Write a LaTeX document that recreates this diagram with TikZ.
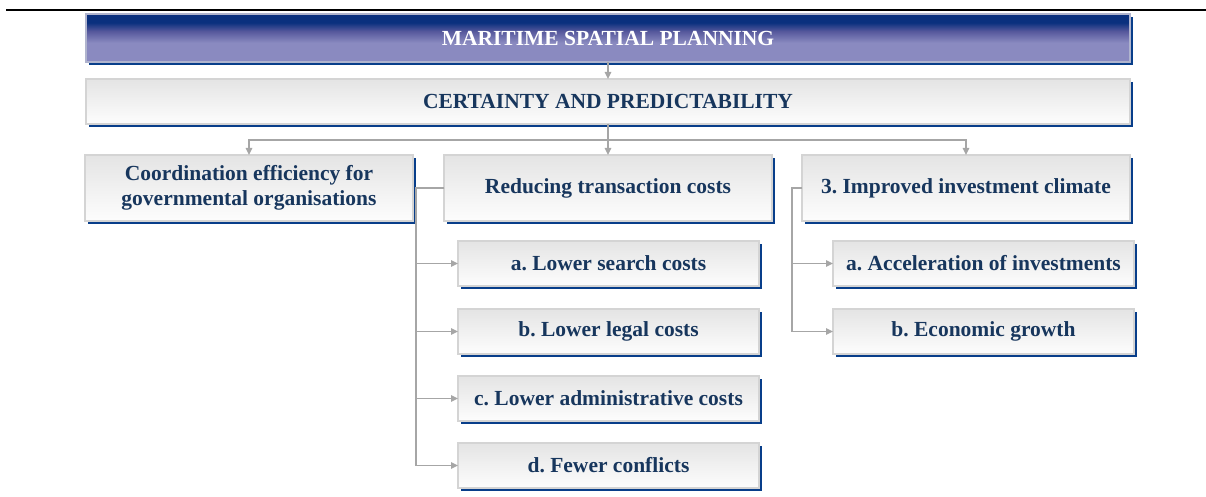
\documentclass[tikz,border=0pt]{standalone}
\usepackage{fontspec}
\setmainfont{Liberation Serif}
\usepackage{tikz}
\usetikzlibrary{positioning}
\usetikzlibrary{arrows.meta}
\usetikzlibrary{shadows}
\frenchspacing

\definecolor{navytext}{RGB}{23,54,93}
\definecolor{shadowblue}{RGB}{8,62,138}
\definecolor{boxedge}{RGB}{212,212,212}
\definecolor{boxtop}{RGB}{228,228,228}
\definecolor{boxbot}{RGB}{253,253,253}
\definecolor{titletop}{RGB}{10,48,126}
\definecolor{titlemid}{RGB}{86,88,156}
\definecolor{titlelow}{RGB}{138,138,192}
\definecolor{titleedge}{RGB}{176,180,206}
\definecolor{linkgray}{RGB}{166,166,166}

\pgfdeclareverticalshading{titleshade}{100bp}{color(0bp)=(titlelow); color(25bp)=(titlelow); color(45bp)=(titlelow); color(57bp)=(titlemid); color(66bp)=(titletop); color(75bp)=(titletop); color(100bp)=(titletop)}

\tikzset{
  basebox/.style={rectangle, outer sep=0pt, inner sep=2pt, line width=1.2pt,
    align=center, font=\bfseries\fontsize{21.5}{25.5}\selectfont,
    drop shadow={shadow xshift=3pt, shadow yshift=-3pt, fill=shadowblue, opacity=1}},
  titlebox/.style={basebox, draw=titleedge, shading=titleshade, text=white,
    minimum width=1044pt, minimum height=48pt},
  mainbox/.style={basebox, draw=boxedge, top color=boxtop, bottom color=boxbot,
    text=navytext},
  widebox/.style={mainbox, minimum width=1044pt, minimum height=45pt},
  groupbox/.style={mainbox, minimum width=328pt, minimum height=66pt},
  subbox/.style={mainbox, minimum width=301pt, minimum height=45pt},
  link/.style={draw=linkgray, line width=1.5pt, -{Triangle[length=7pt,width=6.5pt]}}
}

\begin{document}
\begin{tikzpicture}
  \useasboundingbox (0pt,0pt) rectangle (1206pt,-497pt);
  \draw[line width=2pt] (6pt,-10pt) -- (1206pt,-10pt);

  \node[titlebox] (msp) at (608pt,-38pt) {MARITIME SPATIAL PLANNING};
  \node[widebox, below=17pt of msp] (cert) {CERTAINTY AND PREDICTABILITY};
  \draw[link] (msp) -- (cert);

  \node[groupbox, below=31pt of cert] (reduce) {Reducing transaction costs};
  \node[groupbox, left=31pt of reduce] (coord) {Coordination efficiency for\\governmental organisations};
  \node[groupbox, right=30pt of reduce] (improve) {3. Improved investment climate};

  \coordinate[below=16pt of cert.south] (split);
  \draw[link] (cert.south) -- (cert.south |- reduce.north);
  \draw[link] (split) -| (coord.north);
  \draw[link] (split) -| (improve.north);

  % transaction costs
  \node[subbox, below=20pt of reduce.south west, anchor=north west, xshift=14pt] (lowsearch) {a. Lower search costs};
  \node[subbox, below=23pt of lowsearch] (lowlegal) {b. Lower legal costs};
  \node[subbox, below=22pt of lowlegal] (lowadmin) {c. Lower administrative costs};
  \node[subbox, below=22pt of lowadmin] (conflicts) {d. Fewer conflicts};

  \coordinate[left=28pt of reduce.west] (leftbus);
  \foreach \s in {lowsearch, lowlegal, lowadmin, conflicts}
    \draw[link] (reduce.west) -- (leftbus) |- (\s.west);

  % investment climate
  \node[subbox, below=20pt of improve.south west, anchor=north west, xshift=31pt] (accel) {a. Acceleration of investments};
  \node[subbox, below=23pt of accel] (growth) {b. Economic growth};

  \coordinate[left=10pt of improve.west] (rightbus);
  \foreach \s in {accel, growth}
    \draw[link] (improve.west) -- (rightbus) |- (\s.west);
\end{tikzpicture}
\end{document}
